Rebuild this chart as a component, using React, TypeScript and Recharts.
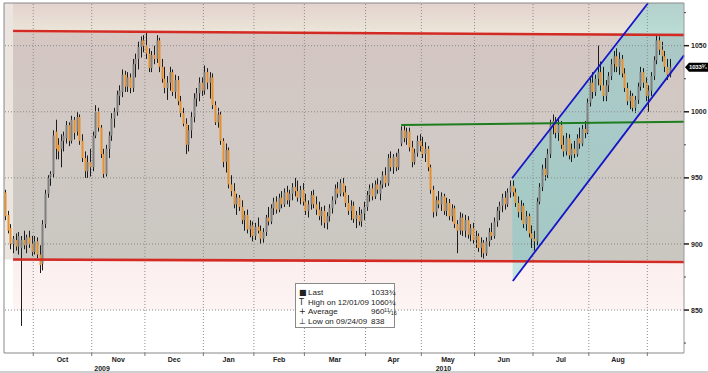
import React from 'react';
import { ComposedChart, Bar, XAxis, YAxis, ReferenceLine, ReferenceArea } from 'recharts';

// Daily OHLC, index 0 = mid Sep 2009 ... index 250 = mid Sep 2010
const opens = [
  939, 922, 912, 900, 903, 898, 897, 903, 899, 905, 900, 894, 902, 892, 885, 915, 938, 951, 953, 985,
  975, 972, 978, 980, 990, 978, 994, 985, 996, 978, 965, 955, 962, 958, 982, 1000, 988, 968, 953, 972,
  982, 995, 1000, 1012, 1015, 1028, 1019, 1026, 1018, 1036, 1040, 1049, 1054, 1050, 1044, 1033, 1043, 1040, 1054, 1034,
  1025, 1018, 1022, 1030, 1015, 1024, 1008, 999, 991, 975, 986, 996, 1010, 1014, 1022, 1016, 1030, 1022, 1026, 1005,
  992, 998, 978, 962, 971, 945, 940, 930, 935, 928, 918, 922, 911, 914, 906, 913, 910, 904, 909, 920,
  917, 927, 932, 926, 935, 930, 939, 933, 938, 943, 940, 935, 941, 932, 925, 930, 937, 930, 926, 921,
  925, 916, 921, 927, 933, 942, 938, 946, 939, 931, 925, 929, 919, 922, 917, 923, 928, 937, 942, 936,
  945, 938, 945, 952, 946, 965, 958, 966, 958, 976, 986, 980, 985, 973, 962, 969, 978, 974, 968, 972,
  958, 941, 924, 933, 930, 936, 925, 931, 921, 927, 915, 910, 920, 910, 918, 907, 912, 903, 906, 897,
  901, 893, 902, 909, 906, 917, 925, 929, 935, 930, 939, 944, 939, 931, 924, 929, 915, 921, 908, 904,
  902, 932, 943, 957, 952, 968, 990, 993, 984, 990, 975, 970, 980, 967, 972, 968, 980, 976, 987, 984,
  1007, 1022, 1015, 1025, 1030, 1020, 1012, 1020, 1027, 1036, 1042, 1034, 1040, 1029, 1018, 1008, 1012, 1003, 1009, 1019,
  1030, 1022, 1012, 1016, 1027, 1039, 1054, 1047, 1042, 1034, 1028,
];
const highs = [
  941, 925, 915, 906, 908, 909, 906, 910, 907, 910, 906, 906, 905, 899, 918, 941, 952, 955, 986, 994,
  980, 983, 985, 993, 992, 997, 996, 1000, 998, 983, 970, 967, 972, 985, 1005, 1003, 990, 972, 975, 985,
  999, 1003, 1016, 1020, 1032, 1031, 1030, 1029, 1040, 1044, 1053, 1057, 1058, 1060.75, 1048, 1046, 1050, 1058, 1056, 1040,
  1034, 1027, 1034, 1032, 1028, 1027, 1012, 1003, 995, 990, 1000, 1014, 1018, 1026, 1026, 1035, 1033, 1030, 1029, 1008,
  1003, 1000, 980, 976, 973, 952, 946, 938, 937, 933, 925, 926, 918, 917, 916, 920, 914, 912, 922, 928,
  930, 935, 936, 938, 940, 942, 944, 941, 946, 950, 948, 944, 946, 938, 933, 940, 941, 936, 932, 928,
  929, 924, 930, 936, 945, 947, 949, 950, 944, 937, 933, 932, 925, 928, 926, 932, 940, 945, 946, 948,
  950, 948, 955, 958, 968, 970, 968, 969, 972, 989, 990, 988, 988, 978, 972, 982, 983, 981, 977, 974,
  960, 944, 936, 940, 939, 938, 935, 934, 930, 929, 918, 924, 923, 922, 921, 915, 916, 910, 908, 905,
  903, 905, 912, 916, 920, 928, 932, 938, 940, 942, 948, 948, 942, 936, 933, 931, 925, 923, 914, 910,
  935, 946, 960, 965, 972, 994, 998, 996, 995, 993, 982, 984, 983, 976, 978, 983, 988, 990, 993, 1010,
  1026, 1030, 1028, 1050, 1038, 1034, 1024, 1030, 1040, 1046, 1048, 1045, 1043, 1033, 1022, 1016, 1014, 1012, 1022, 1034,
  1033, 1026, 1020, 1030, 1042, 1058, 1057, 1053, 1046, 1040, 1040,
];
const lows = [
  918, 908, 896, 893, 895, 892, 838, 896, 893, 897, 891, 892, 889, 878, 880, 912, 935, 944, 950, 964,
  964, 958, 970, 976, 974, 976, 979, 982, 975, 962, 950, 950, 951, 955, 980, 985, 965, 950, 951, 965,
  978, 988, 997, 1005, 1011, 1015, 1015, 1014, 1015, 1026, 1032, 1041, 1045, 1040, 1030, 1030, 1036, 1037, 1030, 1022,
  1014, 1009, 1016, 1012, 1010, 1005, 996, 989, 968, 970, 980, 992, 1004, 1008, 1012, 1013, 1017, 1010, 1002, 990,
  988, 975, 958, 954, 942, 936, 927, 922, 925, 915, 910, 908, 905, 902, 903, 908, 900, 901, 906, 914,
  915, 922, 923, 924, 927, 928, 930, 928, 933, 936, 932, 930, 929, 922, 920, 926, 927, 922, 918, 914,
  912, 911, 917, 923, 930, 935, 936, 936, 928, 922, 918, 916, 912, 914, 913, 918, 925, 932, 933, 934,
  938, 933, 942, 943, 944, 955, 953, 955, 956, 974, 977, 975, 970, 958, 960, 966, 970, 965, 962, 955,
  938, 920, 921, 927, 925, 922, 921, 918, 917, 912, 893, 907, 906, 905, 904, 902, 900, 897, 894, 890,
  889, 891, 898, 903, 904, 913, 918, 924, 926, 928, 935, 936, 928, 920, 918, 912, 910, 905, 897, 895,
  899, 930, 940, 948, 950, 965, 983, 980, 978, 972, 966, 967, 964, 962, 965, 966, 972, 974, 980, 983,
  1004, 1010, 1012, 1020, 1016, 1008, 1008, 1015, 1024, 1030, 1030, 1028, 1026, 1015, 1005, 1002, 1000, 999, 1006, 1016,
  1018, 1008, 1000, 1012, 1024, 1036, 1043, 1038, 1030, 1024, 1026,
];
const closes = [
  921, 910, 900, 904, 898, 906, 903, 899, 905, 900, 894, 902, 892, 884, 915, 938, 950, 953, 982, 972,
  970, 978, 982, 990, 978, 994, 984, 996, 978, 965, 955, 962, 958, 982, 1000, 988, 968, 953, 972, 982,
  995, 1000, 1013, 1016, 1028, 1019, 1026, 1018, 1036, 1040, 1049, 1054, 1050, 1044, 1033, 1043, 1040, 1054, 1034, 1025,
  1018, 1022, 1030, 1015, 1024, 1008, 999, 991, 975, 986, 996, 1010, 1014, 1022, 1016, 1030, 1022, 1026, 1005, 992,
  998, 978, 962, 971, 945, 940, 930, 935, 928, 918, 922, 911, 914, 906, 913, 910, 904, 909, 920, 917,
  927, 932, 926, 935, 930, 939, 933, 938, 943, 940, 935, 941, 932, 925, 930, 937, 930, 926, 921, 925,
  916, 921, 927, 933, 942, 938, 946, 939, 931, 925, 929, 919, 922, 917, 923, 928, 937, 942, 936, 945,
  941, 945, 952, 946, 965, 958, 966, 958, 969, 986, 980, 985, 973, 962, 969, 978, 974, 968, 972, 958,
  941, 924, 933, 930, 936, 925, 931, 921, 927, 915, 910, 920, 910, 918, 907, 912, 903, 906, 897, 901,
  893, 902, 909, 906, 917, 925, 929, 935, 930, 939, 944, 939, 931, 924, 929, 915, 921, 908, 904, 902,
  932, 943, 957, 952, 968, 990, 993, 984, 990, 975, 970, 980, 967, 972, 968, 980, 976, 987, 984, 1007,
  1022, 1015, 1025, 1030, 1020, 1012, 1020, 1027, 1036, 1042, 1034, 1040, 1029, 1018, 1008, 1012, 1003, 1009, 1019, 1030,
  1022, 1012, 1016, 1027, 1039, 1054, 1047, 1042, 1034, 1028, 1033.75,
];

const monthNames = ['Oct', 'Nov', 'Dec', 'Jan', 'Feb', 'Mar', 'Apr', 'May', 'Jun', 'Jul', 'Aug'];
const monthBounds = [10.5, 32.5, 52.5, 74.5, 93.5, 112.5, 135.5, 156.5, 176.5, 198.5, 219.5, 241.5];
const yearNames = ['2009', '2010'];
const yearPos = [36.4, 164.8];
const majorTicks = [850, 900, 950, 1000, 1050];
const minorTicks = [825, 875, 925, 975, 1025, 1075];
const lastPrice = 1033.75;
const lastText = '1033¾';

const resistance = [{ x: 2.9, y: 1061.1 }, { x: 255.3, y: 1058.1 }];
const support = [{ x: 2.9, y: 888.2 }, { x: 255.3, y: 886.4 }];
const midLine = [{ x: 148.9, y: 990 }, { x: 255.3, y: 992.4 }];
const channelUpper = [{ x: 190.6, y: 949.7 }, { x: 241.8, y: 1082.3 }];
const channelLower = [{ x: 190.9, y: 872 }, { x: 255.3, y: 1042.7 }];

const legendRows = [
  { icon: '■', label: 'Last', value: '1033¾' },
  { icon: 'T', label: 'High on 12/01/09', value: '1060¾' },
  { icon: '+', label: 'Average', value: '960¹¹⁄₁₆' },
  { icon: '⊥', label: 'Low on 09/24/09', value: '838' },
];

const X_MIN = -0.5;
const X_MAX = 255.3;
const Y_MIN = 817.5;
const Y_MAX = 1082.3;

const rows = opens.map((o, k) => ({ i: k, o, h: highs[k], l: lows[k], c: closes[k] }));
const monthCenters = monthNames.map((_, k) => (monthBounds[k] + monthBounds[k + 1]) / 2);
const xTicks = [...monthBounds, ...monthCenters, ...yearPos];
const yTicks = [...minorTicks, ...majorTicks, lastPrice].sort((a, b) => a - b);

const AXIS_FONT = '"Liberation Sans", Arial, sans-serif';

const Candle = (props: any) => {
  const { x, y, width, height } = props;
  const p = props.payload || props;
  if (p == null || !isFinite(y) || !isFinite(height)) return null;
  const span = p.h - p.l || 1;
  const py = (v: number) => y + ((p.h - v) / span) * height;
  const cx = Math.round(x + width / 2);
  const up = p.c >= p.o;
  const top = py(Math.max(p.o, p.c));
  const bot = py(Math.min(p.o, p.c));
  return (
    <g>
      <line x1={cx + 0.5} x2={cx + 0.5} y1={y} y2={y + height} stroke="#1c1c1c" strokeWidth={1} />
      <rect x={cx - 0.5} y={top} width={2} height={Math.max(bot - top, 1)} fill={up ? '#7f7f7f' : '#e8902c'} />
    </g>
  );
};

const ChannelFill = (props: any) => {
  const { x, y, width, height } = props;
  const x1 = channelUpper[0].x;
  const y1 = channelLower[0].y;
  const X = (v: number) => x + ((v - x1) / (X_MAX - x1)) * width;
  const Y = (v: number) => y + ((Y_MAX - v) / (Y_MAX - y1)) * height;
  const pts = [
    channelUpper[0], channelUpper[1], { x: X_MAX, y: Y_MAX }, channelLower[1], channelLower[0],
  ].map((q) => `${X(q.x)},${Y(q.y)}`).join(' ');
  return <polygon points={pts} fill="#62cccc" fillOpacity={0.36} />;
};

const XTick = (props: any) => {
  const { x, y, payload } = props;
  const v = payload.value;
  if (monthBounds.indexOf(v) >= 0) {
    return <line x1={x} x2={x} y1={y} y2={y + 3} stroke="#777" strokeWidth={1} />;
  }
  const ci = monthCenters.indexOf(v);
  if (ci >= 0) {
    return (
      <text x={x} y={y + 8.5} textAnchor="middle" fontFamily={AXIS_FONT} fontSize={7} fontWeight="bold" fill="#222">
        {monthNames[ci]}
      </text>
    );
  }
  const yi = yearPos.indexOf(v);
  if (yi >= 0) {
    return (
      <text x={x} y={y + 17.5} textAnchor="middle" fontFamily={AXIS_FONT} fontSize={7} fontWeight="bold" fill="#222">
        {yearNames[yi]}
      </text>
    );
  }
  return null;
};

const YTick = (props: any) => {
  const { x, y, payload } = props;
  const v = payload.value;
  if (v === lastPrice) {
    return (
      <g>
        <path d={`M${x + 1},${y} L${x + 5},${y - 4.5} L${x + 24},${y - 4.5} L${x + 24},${y + 4.5} L${x + 5},${y + 4.5} Z`} fill="#000" />
        <text x={x + 5} y={y + 2.3} fontFamily={AXIS_FONT} fontSize={6} fontWeight="bold" letterSpacing={-0.2} fill="#fff">
          {lastText}
        </text>
      </g>
    );
  }
  if (majorTicks.indexOf(v) >= 0) {
    return (
      <g>
        <line x1={x} x2={x + 5} y1={y} y2={y} stroke="#222" strokeWidth={1.5} />
        <text x={x + 7} y={y + 2.6} fontFamily={AXIS_FONT} fontSize={7} fontWeight="bold" fill="#222">
          {v}
        </text>
      </g>
    );
  }
  return <line x1={x} x2={x + 2} y1={y} y2={y} stroke="#444" strokeWidth={1} />;
};

export default function App() {
  return (
    <div style={{ position: 'absolute', left: 0, top: 0, width: 708, height: 373, background: '#fff', overflow: 'hidden' }}>
      <svg width={0} height={0} style={{ position: 'absolute' }}>
        <defs>
          <linearGradient id="gTop" x1="0" y1="0" x2="0" y2="1">
            <stop offset="0" stopColor="#e3d2ce" />
            <stop offset="0.5" stopColor="#e7dcd3" />
            <stop offset="1" stopColor="#ece6d9" />
          </linearGradient>
          <linearGradient id="gMid" x1="0" y1="0" x2="0" y2="1">
            <stop offset="0" stopColor="#d8c8c4" />
            <stop offset="0.08" stopColor="#d3c6c2" />
            <stop offset="0.4" stopColor="#d1c9c5" />
            <stop offset="1" stopColor="#cac7c1" />
          </linearGradient>
          <linearGradient id="gPink" x1="0" y1="0" x2="0" y2="1">
            <stop offset="0" stopColor="#fbeeee" />
            <stop offset="1" stopColor="#fdf4f4" />
          </linearGradient>
        </defs>
      </svg>
      <ComposedChart width={708} height={373} data={rows} margin={{ top: 3, right: 0, bottom: 0, left: 4 }}>
        <XAxis
          dataKey="i"
          type="number"
          domain={[X_MIN, X_MAX]}
          allowDataOverflow
          ticks={xTicks}
          interval={0}
          tick={<XTick />}
          tickLine={false}
          tickSize={0}
          tickMargin={0}
          axisLine={{ stroke: '#888' }}
          height={20}
        />
        <YAxis
          orientation="right"
          type="number"
          domain={[Y_MIN, Y_MAX]}
          allowDataOverflow
          ticks={yTicks}
          interval={0}
          tick={<YTick />}
          tickLine={false}
          tickSize={0}
          tickMargin={0}
          axisLine={{ stroke: '#999' }}
          width={24}
        />
        <ReferenceArea x1={X_MIN} x2={2.9} y1={888.2} y2={Y_MAX} fill="#ebe4df" fillOpacity={1} stroke="none" />
        <ReferenceArea x1={2.9} x2={X_MAX} y1={1059.6} y2={Y_MAX} fill="url(#gTop)" fillOpacity={1} stroke="none" />
        <ReferenceArea x1={2.9} x2={X_MAX} y1={887.3} y2={1059.6} fill="url(#gMid)" fillOpacity={1} stroke="none" />
        <ReferenceArea x1={2.9} x2={X_MAX} y1={850} y2={887.3} fill="url(#gPink)" fillOpacity={1} stroke="none" />
        <ReferenceArea
          x1={channelUpper[0].x}
          x2={X_MAX}
          y1={channelLower[0].y}
          y2={Y_MAX}
          shape={<ChannelFill />}
          ifOverflow="visible"
        />
        {majorTicks.map((v) => (
          <ReferenceLine key={'h' + v} y={v} stroke="#8c8c8c" strokeDasharray="1 2" />
        ))}
        {monthBounds.map((v) => (
          <ReferenceLine key={'v' + v} x={v} stroke="#8c8c8c" strokeDasharray="1 2" />
        ))}
        <Bar dataKey={(d: any) => [d.l, d.h]} barSize={2} shape={<Candle />} isAnimationActive={false} />
        <ReferenceLine segment={resistance} stroke="#d42a24" strokeWidth={2.6} ifOverflow="visible" />
        <ReferenceLine segment={support} stroke="#d42a24" strokeWidth={2.6} ifOverflow="visible" />
        <ReferenceLine segment={midLine} stroke="#1e7d1e" strokeWidth={2} ifOverflow="visible" />
        <ReferenceLine segment={channelUpper} stroke="#1515c8" strokeWidth={1.8} ifOverflow="visible" />
        <ReferenceLine segment={channelLower} stroke="#1515c8" strokeWidth={1.8} ifOverflow="visible" />
        <ReferenceLine y={Y_MAX} stroke="#888" strokeWidth={1} ifOverflow="visible" />
        <ReferenceLine x={X_MIN} stroke="#888" strokeWidth={1} ifOverflow="visible" />
      </ComposedChart>
      <div
        style={{
          position: 'absolute',
          left: 295,
          top: 283,
          width: 100,
          height: 45,
          border: '1px solid #8a8a8a',
          background: '#fff',
          fontFamily: AXIS_FONT,
          fontSize: 8,
          color: '#222',
          paddingTop: 4,
          boxSizing: 'border-box',
        }}
      >
        {legendRows.map((r) => (
          <div key={r.label} style={{ position: 'relative', height: 9.6, lineHeight: '9.6px', whiteSpace: 'nowrap' }}>
            <span style={{ position: 'absolute', left: 3, fontFamily: '"DejaVu Sans", sans-serif', fontSize: 8 }}>{r.icon}</span>
            <span style={{ position: 'absolute', left: 12 }}>{r.label}</span>
            <span style={{ position: 'absolute', left: 75 }}>{r.value}</span>
          </div>
        ))}
      </div>
      <div style={{ position: 'absolute', left: 0, top: 371, width: 708, height: 2, background: '#cfcfcf' }} />
    </div>
  );
}
